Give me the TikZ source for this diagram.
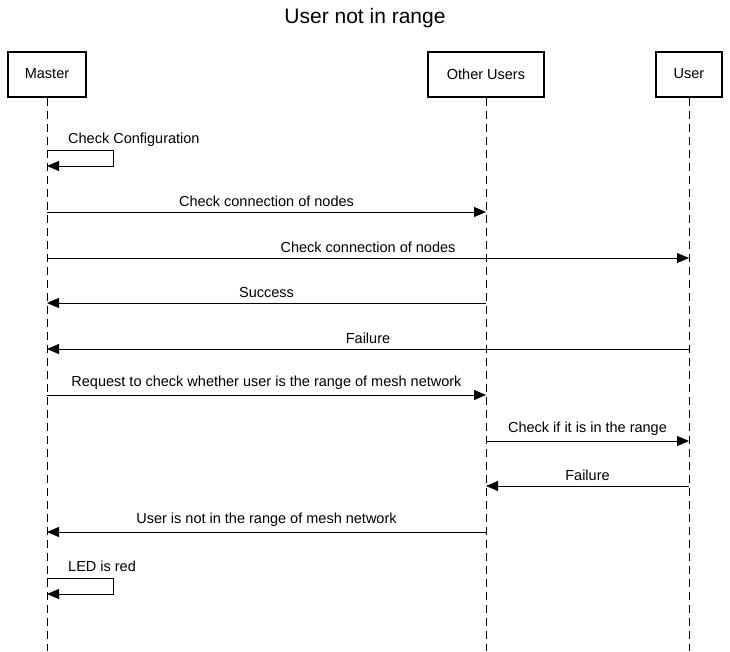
\documentclass[tikz,border=0pt]{standalone}
\usepackage{fontspec}
\setmainfont{Liberation Sans}
\usetikzlibrary{positioning,arrows.meta,calc}

\begin{document}
\begin{tikzpicture}[x=1pt,y=-1pt]
		\tikzstyle{actor} = [rectangle,draw=black,line width=2pt,minimum height=45pt,font=\fontsize{14.5}{17}\selectfont]
		\tikzstyle{lifeline} = [draw=black,line width=0.8pt,dash pattern=on 8pt off 5pt]
		\tikzstyle{msg} = [draw=black,line width=0.8pt,-{Triangle[length=12pt,width=10pt]}]
		\tikzstyle{lbl} = [font=\fontsize{14.5}{17}\selectfont,inner sep=2pt]

		\useasboundingbox (0,0) rectangle (730,651);

		\node[font=\fontsize{21}{25}\selectfont] (title) at (365,18) {User not in range};

		\node[actor,minimum width=78pt] (master) at (47,74) {Master};
		\node[actor,minimum width=116pt] (other) at (486,74) {Other Users};
		\node[actor,minimum width=66pt] (user) at (689,74) {User};

		\coordinate (bottom) at (0,651);
		\draw[lifeline] (master) -- (master |- bottom);
		\draw[lifeline] (other) -- (other |- bottom);
		\draw[lifeline] (user) -- (user |- bottom);

		% self message
		\coordinate (s1a) at (0,150);
		\coordinate (s1b) at (113,166);
		\draw[msg] (master |- s1a) -| (s1b) -- (master |- s1b);
		\node[lbl,anchor=south west] (l0) at (66,149) {Check Configuration};

		\coordinate (r1) at (0,212);
		\coordinate (r2) at (0,258);
		\coordinate (r3) at (0,303);
		\coordinate (r4) at (0,349);
		\coordinate (r5) at (0,395);
		\coordinate (r6) at (0,441);
		\coordinate (r7) at (0,486);
		\coordinate (r8) at (0,532);

		\draw[msg] (master |- r1) -- node[lbl,above=3pt] {Check connection of nodes} (other |- r1);
		\draw[msg] (master |- r2) -- node[lbl,above=3pt] {Check connection of nodes} (user |- r2);
		\draw[msg] (other |- r3) -- node[lbl,above=3pt] {Success} (master |- r3);
		\draw[msg] (user |- r4) -- node[lbl,above=3pt] {Failure} (master |- r4);
		\draw[msg] (master |- r5) -- node[lbl,above=3pt] {Request to check whether user is the range of mesh network} (other |- r5);
		\draw[msg] (other |- r6) -- node[lbl,above=3pt] {Check if it is in the range} (user |- r6);
		\draw[msg] (user |- r7) -- node[lbl,above=3pt] {Failure} (other |- r7);
		\draw[msg] (other |- r8) -- node[lbl,above=3pt] {User is not in the range of mesh network} (master |- r8);

		% self message
		\coordinate (s2a) at (0,578);
		\coordinate (s2b) at (113,594);
		\draw[msg] (master |- s2a) -| (s2b) -- (master |- s2b);
		\node[lbl,anchor=south west] (l9) at (66,574) {LED is red};
	\end{tikzpicture}
\end{document}
